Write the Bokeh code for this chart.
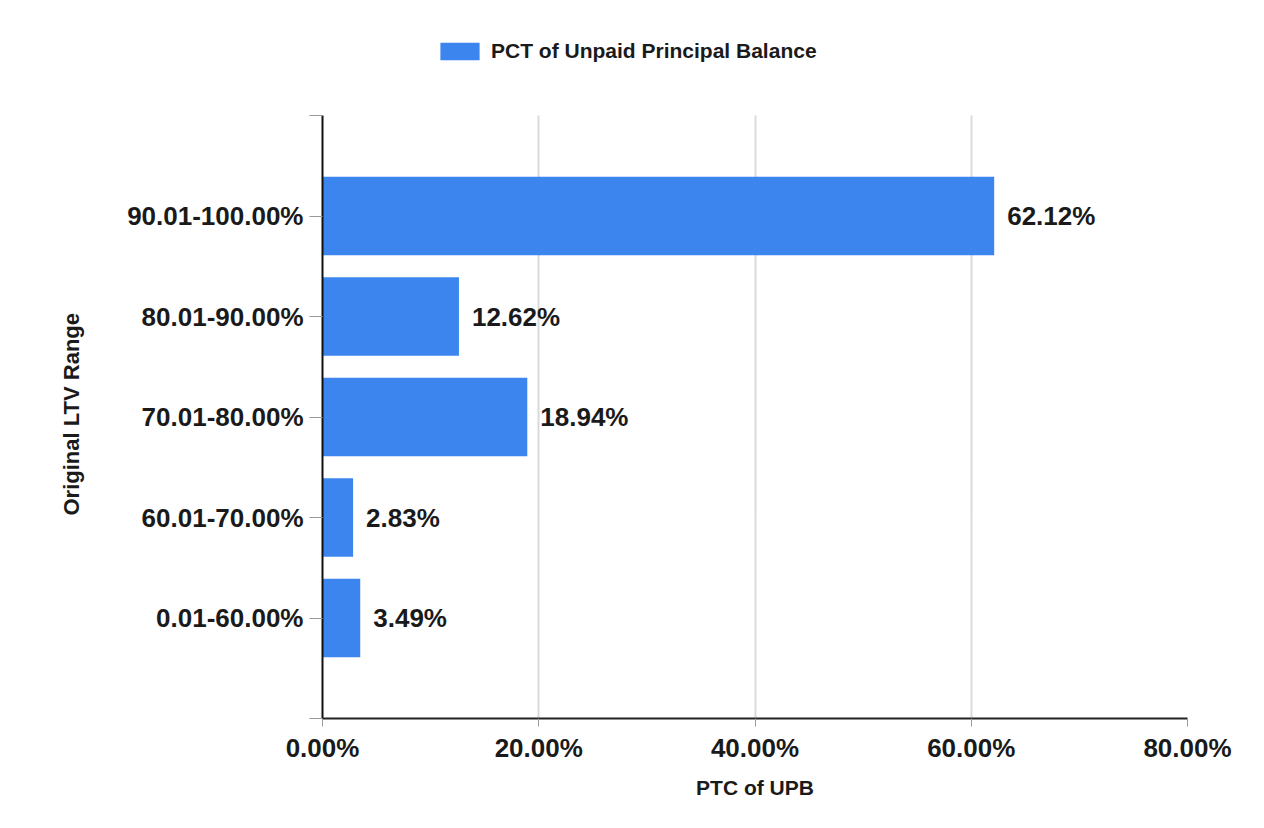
from bokeh.plotting import figure
from bokeh.models import (Range1d, FixedTicker, Legend, LegendItem, Title,
                          ColumnDataSource, CustomJSTickFormatter)
from bokeh.core.properties import value
from bokeh.embed import file_html
from bokeh.resources import INLINE

categories = ["0.01-60.00%", "60.01-70.00%", "70.01-80.00%", "80.01-90.00%", "90.01-100.00%"]
pct_upb = [3.49, 2.83, 18.94, 12.62, 62.12]
x_ticks = [0, 20, 40, 60, 80]
series_name = "PCT of Unpaid Principal Balance"
x_title = "PTC of UPB"
y_title = "Original LTV Range"

FONT = "Liberation Sans"
TXT = "#1a1a1a"
BAR = "#3c85ef"

pos = [i + 1 for i in range(len(categories))]
labels = ["%.2f%%" % v for v in pct_upb]
src = ColumnDataSource(dict(pos=pos, val=pct_upb, lab=labels))

n_slots = len(categories) + 1
p = figure(width=1264, height=828, output_backend="svg", toolbar_location=None,
           title=None,
           y_range=Range1d(0, n_slots * 698 / 603),
           x_range=Range1d(0, 80),
           min_border_left=322, min_border_right=77, min_border_top=20, min_border_bottom=110)
p.outline_line_color = None
p.background_fill_color = "white"
p.border_fill_color = "white"

r = p.hbar(y="pos", right="val", left=0, height=0.78, source=src,
           fill_color=BAR, line_color=None)

p.text(x="val", y="pos", text="lab", source=src, x_offset=13,
       text_baseline="middle", text_align="left",
       text_font=value(FONT), text_font_style="bold", text_font_size="26px",
       text_color=TXT)

# x axis
xa = p.xaxis[0]
xa.ticker = FixedTicker(ticks=x_ticks)
xa.formatter = CustomJSTickFormatter(code="return tick.toFixed(2) + '%';")
xa.axis_line_color = "#222222"
xa.axis_line_width = 2
xa.major_tick_line_color = "#999999"
xa.major_tick_out = 8
xa.major_tick_in = 0
xa.minor_tick_line_color = None
xa.major_label_text_font = FONT
xa.major_label_text_font_style = "bold"
xa.major_label_text_font_size = "26px"
xa.major_label_text_color = TXT
xa.major_label_standoff = 6
xa.axis_label = x_title
xa.axis_label_text_font = FONT
xa.axis_label_text_font_style = "bold"
xa.axis_label_text_font_size = "21px"
xa.axis_label_text_color = TXT
xa.axis_label_standoff = 10

# y axis
ya = p.yaxis[0]
ya.bounds = (0, n_slots)
ya.ticker = FixedTicker(ticks=[0] + pos + [n_slots])
ya.major_label_overrides = {0: "", n_slots: "", **{k: c for k, c in zip(pos, categories)}}
ya.axis_line_color = "#111111"
ya.axis_line_width = 2
ya.major_tick_line_color = "#999999"
ya.major_tick_out = 13
ya.major_tick_in = 0
ya.minor_tick_line_color = None
ya.major_label_text_font = FONT
ya.major_label_text_font_style = "bold"
ya.major_label_text_font_size = "26px"
ya.major_label_text_color = TXT
ya.major_label_standoff = 6

ytitle = Title(text=y_title, align="left", offset=203, standoff=82,
               text_font=FONT, text_font_style="bold", text_font_size="22px",
               text_color=TXT)
p.add_layout(ytitle, "left")

p.xgrid.grid_line_color = "#dadada"
p.xgrid.grid_line_width = 2
p.xgrid.cross_bounds = (0, n_slots)
p.ygrid.grid_line_color = None

legend = Legend(items=[LegendItem(label=series_name, renderers=[r])],
                location=(113, 655), orientation="horizontal",
                padding=0, margin=0, spacing=0,
                border_line_color=None, background_fill_alpha=0,
                glyph_width=49, glyph_height=22, label_height=22,
                label_standoff=7,
                label_text_font=FONT, label_text_font_style="bold",
                label_text_font_size="21px", label_text_color=TXT)
p.add_layout(legend, "center")

open("out.html", "w").write(file_html(p, INLINE))
